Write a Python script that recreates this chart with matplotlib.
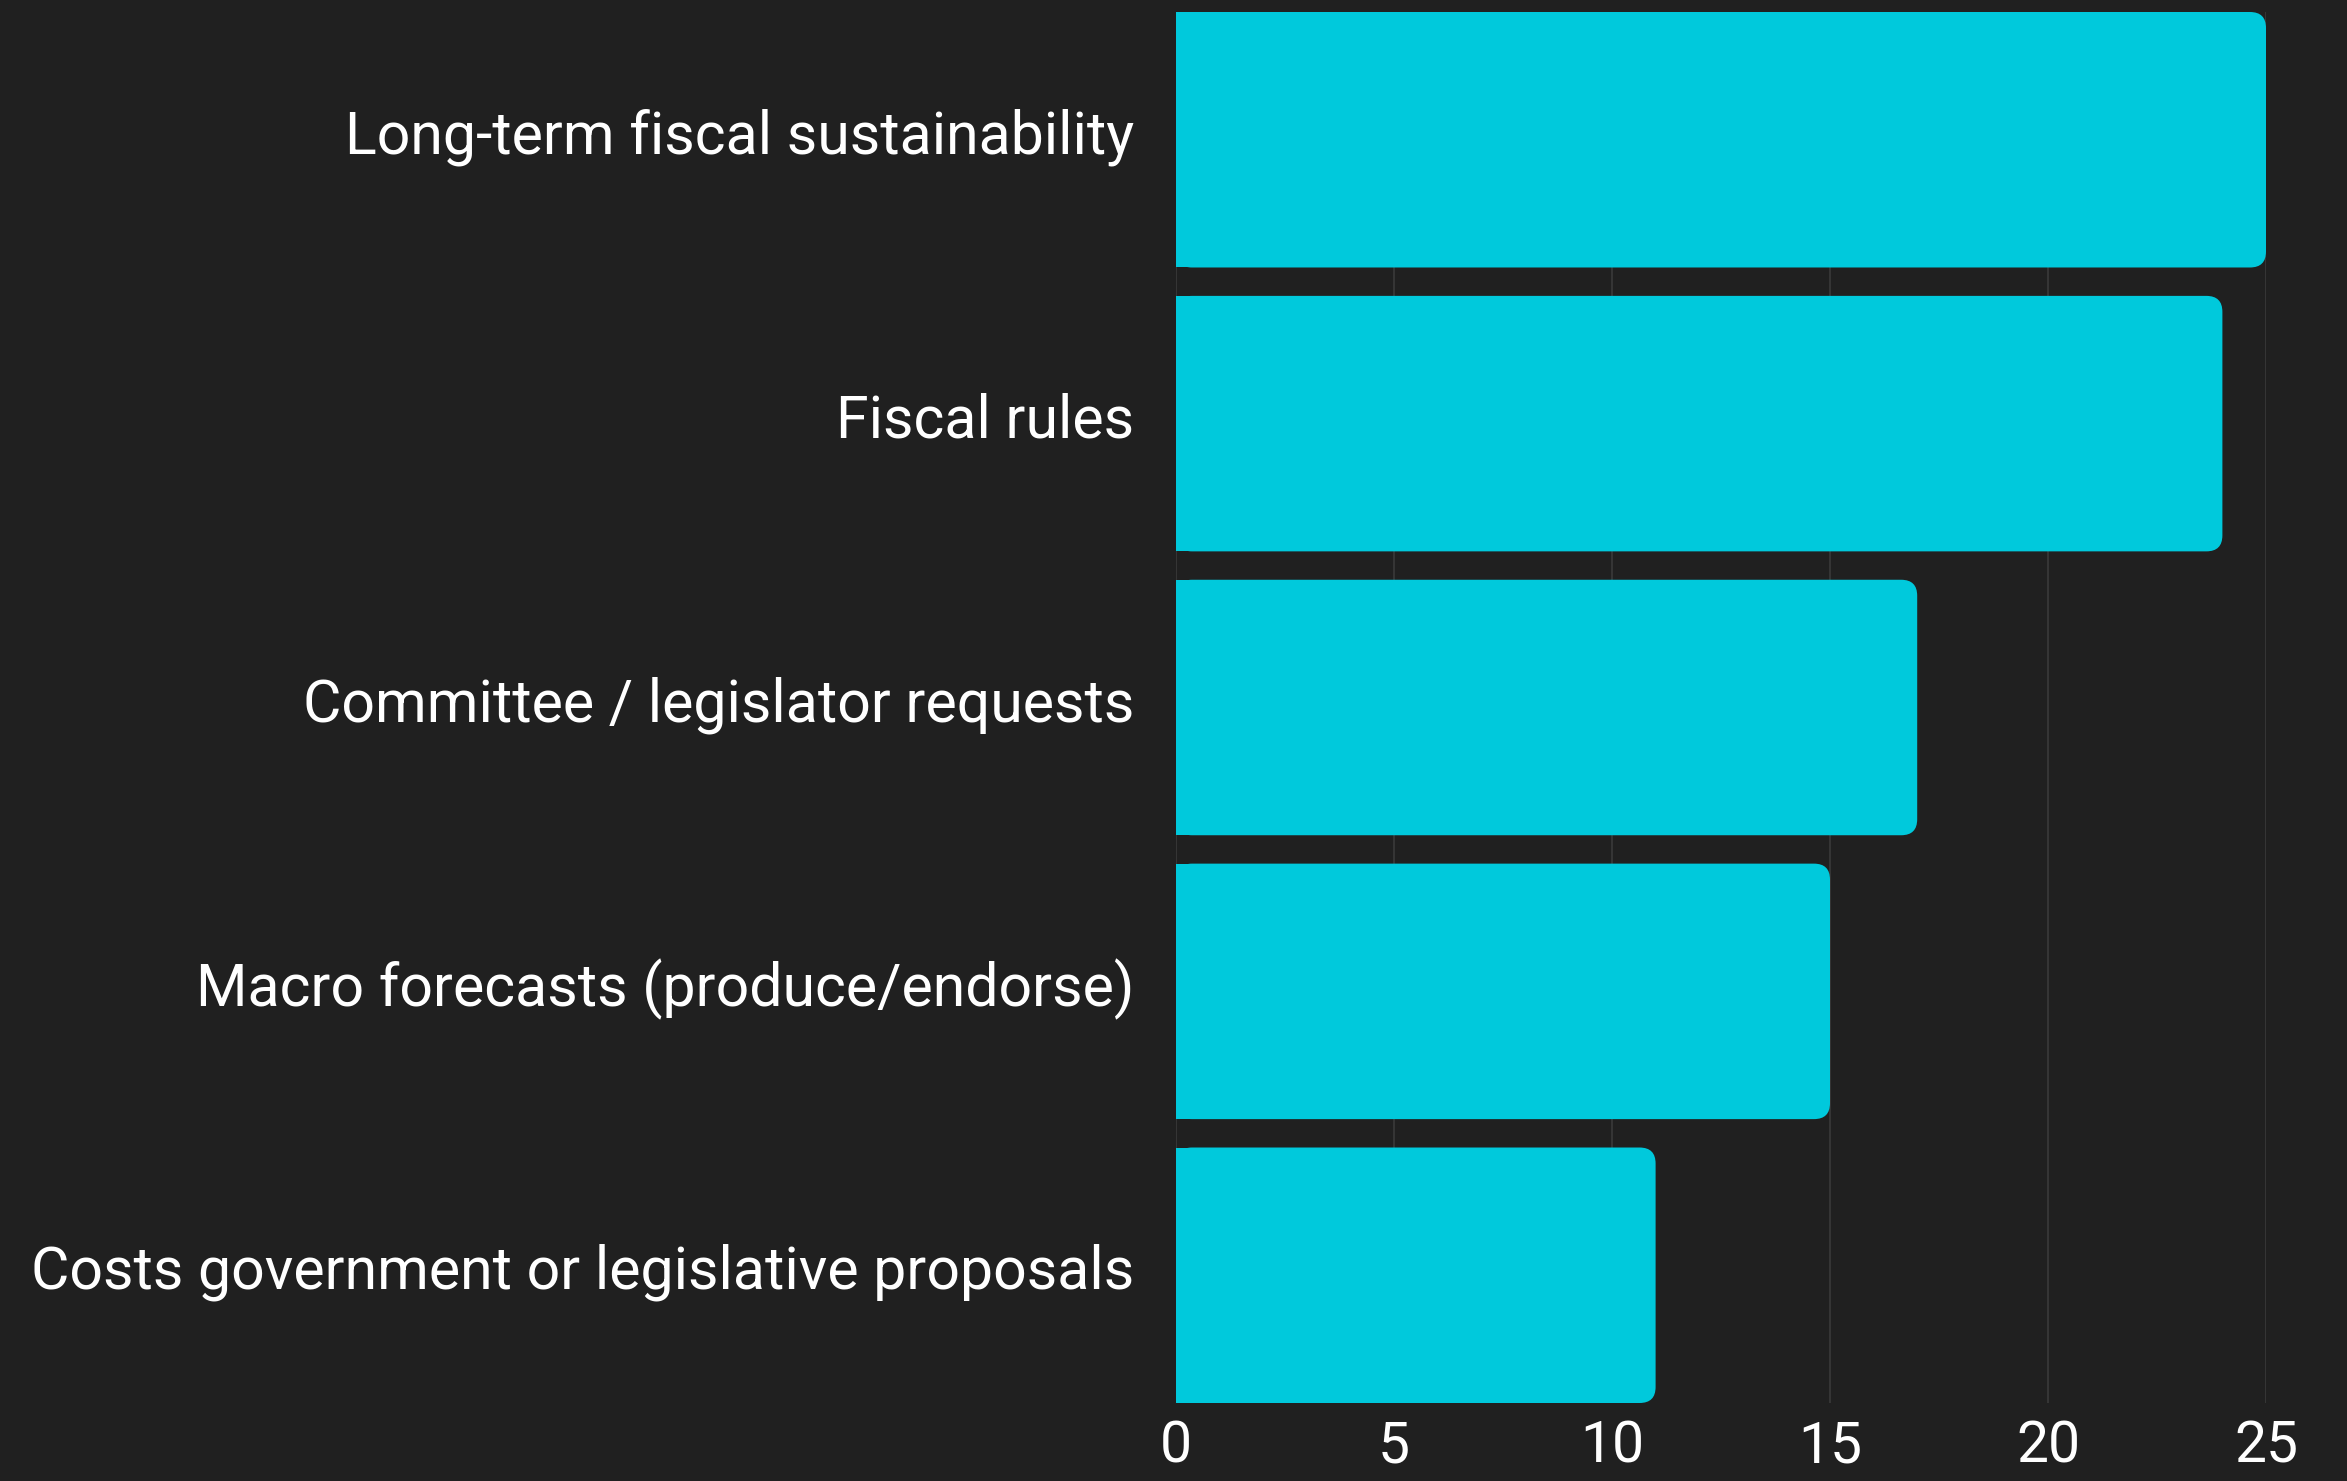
import matplotlib
matplotlib.use("Agg")
import matplotlib.pyplot as plt
import matplotlib.transforms as mtransforms
from matplotlib.patches import FancyBboxPatch

categories = ["Long-term fiscal sustainability", "Fiscal rules", "Committee / legislator requests",
              "Macro forecasts (produce/endorse)", "Costs government or legislative proposals"]
values = [25, 24, 17, 15, 11]
x_ticks = [0, 5, 10, 15, 20, 25]

bg = "#202020"
bar_color = "#00C9DC"

plt.rcParams['font.family'] = ['Roboto', 'DejaVu Sans']

W, H = 2347, 1481
fig = plt.figure(figsize=(W / 100, H / 100), dpi=100, facecolor=bg)
ax = fig.add_axes([1176 / W, 1 - 1403 / H, (2266 - 1176) / W, (1403 - 12) / H])
ax.set_facecolor(bg)

bh = 0.9
ypos = list(range(len(categories)))
ax.set_xlim(0, 25)
ax.set_ylim(len(categories) - 1 + bh / 2, -bh / 2)

# rounded right ends: pixel radius converted to data units
px_x = (2266 - 1176) / 25
px_y = (1403 - 12) / (len(categories) - 1 + bh)
r = 16 / px_x
aspect = px_x / px_y
for y, v in zip(ypos, values):
    ax.add_patch(FancyBboxPatch((0, y - bh / 2), v, bh,
                                boxstyle=f"round,pad=0,rounding_size={r}",
                                mutation_aspect=aspect, fc=bar_color, ec="none", zorder=3))
    ax.barh(y, min(v, 1), height=bh, color=bar_color, zorder=3)

ax.set_yticks(ypos)
ax.set_yticklabels(categories)
ax.set_xticks(x_ticks)
ax.tick_params(axis="y", length=0, pad=30, labelsize=42.5, labelcolor="white")
ax.tick_params(axis="x", length=0, pad=12, labelsize=41, labelcolor="white")
ax.grid(axis="x", color="#3a3a3a", linewidth=1.2, zorder=0)
ax.grid(axis="y", visible=False)
for s in ax.spines.values():
    s.set_visible(False)

shift = mtransforms.ScaledTranslation(0, 9 / 100, fig.dpi_scale_trans)
for lab in ax.get_yticklabels():
    lab.set_transform(lab.get_transform() + shift)

fig.savefig("out.png", dpi=100, facecolor=bg)
